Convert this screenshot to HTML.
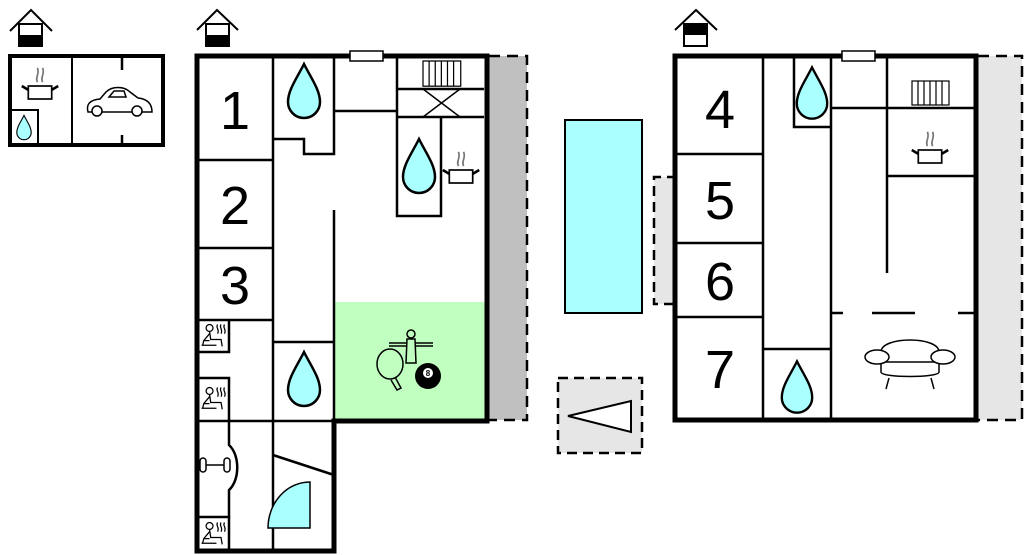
<!DOCTYPE html>
<html><head><meta charset="utf-8"><style>
html,body{margin:0;padding:0;background:#fff;width:1024px;height:555px;overflow:hidden}
svg{display:block}
text{font-family:"Liberation Sans",sans-serif}
</style></head><body>
<svg width="1024" height="555" viewBox="0 0 1024 555" xmlns="http://www.w3.org/2000/svg">
<defs>
<path id="drop" d="M0,-28 C7,-14 16,-2 16,10 A16,16 0 0 1 -16,10 C-16,-2 -7,-14 0,-28 Z" fill="#aaffff" stroke="#000" stroke-width="2.5"/>
<g id="pot" fill="none" stroke="#000" stroke-width="1.3">
<rect x="-9" y="0" width="18" height="10" fill="#fff"/>
<path d="M-9,3 L-14,0 M9,3 L14,0" stroke-width="2"/>
<path d="M-2,-3 C-4,-7 0,-9 -2,-14 M2,-3 C0,-7 4,-9 2,-14" stroke="#777"/>
</g>
<g id="rad" fill="#fff" stroke="#000" stroke-width="1.2">
<rect x="0" y="0" width="37" height="24"/>
<path d="M6,0V24M12,0V24M18,0V24M24,0V24M30,0V24"/>
</g>
<g id="sauna" fill="none" stroke="#000" stroke-width="1.1">
<circle cx="-3" cy="-7" r="3"/>
<path d="M-3,-4 L-2,3 L7,3 L8,9 M-3,-2 L-8,4 L-9,8 M-10,8 L3,8 M-8,4 L-3,4"/>
<path d="M4,-10 c-2,3 2,4 0,8 M7,-10 c-2,3 2,4 0,8 M10,-10 c-2,3 2,4 0,8"/>
</g>
</defs>

<g stroke="#000" fill="none" stroke-width="2">
<path d="M10,31 L31,10 L52,31"/><rect x="19" y="24" width="23" height="22" fill="#fff"/>
<path d="M197,30 L217,10 L238,30"/><rect x="206" y="24" width="23" height="22" fill="#fff"/>
<path d="M675,30 L696,10 L717,30"/><rect x="684" y="24" width="23" height="22" fill="#fff"/>
</g>
<rect x="19" y="35" width="23" height="11" fill="#000"/>
<rect x="206" y="35" width="23" height="11" fill="#000"/>
<rect x="684" y="24" width="23" height="11" fill="#000"/>

<g stroke="#000" fill="none">
<rect x="10" y="56" width="153" height="89" stroke-width="4"/>
<path d="M72,57V144 M12,110H38V144" stroke-width="2"/>
<path d="M122,57V70 M122,135V144" stroke-width="2.5"/>
</g>
<use href="#drop" transform="translate(24,128) scale(0.45)"/>
<use href="#pot" transform="translate(40,86) scale(1.3)"/>
<g fill="none" stroke="#000" stroke-width="1.5">
<path d="M88,112 C86,104 90,100 100,99 L106,92 C112,86 124,86 130,92 L138,98 C148,99 152,104 152,112 Z" fill="#fff"/>
<path d="M109,97 L114,91 L124,91 L126,97 Z"/>
<circle cx="97" cy="111" r="5" fill="#fff"/><circle cx="137" cy="111" r="5" fill="#fff"/>
</g>

<rect x="489" y="56" width="38" height="364" fill="#c0c0c0"/>
<path d="M489,56H527V420H489" fill="none" stroke="#000" stroke-width="2.5" stroke-dasharray="11,7"/>
<rect x="335" y="302" width="150" height="117" fill="#c0ffc0"/>

<g stroke="#000" fill="none" stroke-width="2.5">
<path d="M273,57V551 M197,160H273 M197,248H273 M197,320H273"/>
<path d="M273,139H304V154H334V57"/>
<path d="M334,111H397 M397,57V216H441V117 M397,89H484 M397,117H484"/>
<path d="M423,89L460,117 M460,89L423,117" stroke-width="1.5"/>
<path d="M334,210V421"/>
<path d="M273,342H334"/>
<path d="M197,421H334 M273,455L334,475"/>
<path d="M197,352H229V320 M197,378H229V421 M197,517H229V551"/>
<path d="M229,421V445 C240,455 240,480 229,490 V517"/>
</g>
<path d="M197,56H487V421H334V551H197Z" fill="none" stroke="#000" stroke-width="5"/>
<rect x="350" y="51" width="33" height="10" fill="#fff" stroke="#000" stroke-width="1.5"/>
<use href="#rad" transform="translate(423,61) scale(1.02,1.05)"/>
<use href="#drop" transform="translate(304,92)"/>
<use href="#drop" transform="translate(419,167)"/>
<use href="#drop" transform="translate(304,380)"/>
<use href="#pot" transform="translate(461,170) scale(1.3)"/>
<use href="#sauna" transform="translate(213,336) scale(1.15)"/>
<use href="#sauna" transform="translate(213,399) scale(1.15)"/>
<use href="#sauna" transform="translate(213,534) scale(1.15)"/>
<path d="M268,528 A42,46 0 0 1 310,482 V528 Z" fill="#aaffff" stroke="#000" stroke-width="1.5"/>
<g fill="none" stroke="#000" stroke-width="1.5">
<path d="M204,465H224"/><rect x="200" y="458" width="6" height="14" rx="3" fill="#fff"/><rect x="224" y="458" width="6" height="14" rx="3" fill="#fff"/>
</g>
<g fill="none" stroke="#000" stroke-width="1.5">
<path d="M389,343H433 M389,346H433"/>
<circle cx="411" cy="334" r="4" fill="#c0ffc0"/>
<path d="M407,339H415L416,363H406Z" fill="#c0ffc0"/>
<ellipse cx="390" cy="364" rx="13" ry="15" fill="#c0ffc0"/>
<path d="M395,377L401,388L397,390L391,380"/>
</g>
<circle cx="428" cy="376" r="13" fill="#000"/>
<circle cx="428" cy="373" r="5" fill="#fff"/>
<text x="428" y="376" font-size="8" text-anchor="middle" font-weight="bold">8</text>

<g font-size="54" text-anchor="middle">
<text x="235" y="129">1</text><text x="235" y="224">2</text><text x="235" y="304">3</text>
<text x="720" y="128">4</text><text x="720" y="219">5</text><text x="720" y="300">6</text><text x="720" y="388">7</text>
</g>

<rect x="565" y="120" width="77" height="193" fill="#aaffff" stroke="#000" stroke-width="2"/>
<rect x="654" y="177" width="23" height="127" fill="#e6e6e6"/>
<path d="M677,177H654V304H677" fill="none" stroke="#000" stroke-width="2.5" stroke-dasharray="10,6"/>
<rect x="558" y="378" width="84" height="75" fill="#e6e6e6" stroke="#000" stroke-width="2.5" stroke-dasharray="10,6"/>
<path d="M568,416L631,401V432Z" fill="#fff" stroke="#000" stroke-width="2"/>

<rect x="978" y="56" width="44" height="364" fill="#e6e6e6"/>
<path d="M978,56H1022V420H978" fill="none" stroke="#000" stroke-width="2.5" stroke-dasharray="11,7"/>
<g stroke="#000" fill="none" stroke-width="2.5">
<path d="M763,57V420 M831,57V420 M677,154H763 M677,243H763 M677,317H763"/>
<path d="M794,57V127H831 M763,349H831"/>
<path d="M887,57V273 M831,108H975 M887,176H975"/>
<path d="M831,313H843 M872,313H915 M958,313H975"/>
</g>
<rect x="675" y="56" width="301" height="364" fill="none" stroke="#000" stroke-width="5"/>
<rect x="842" y="51" width="33" height="10" fill="#fff" stroke="#000" stroke-width="1.5"/>
<use href="#rad" transform="translate(912,81)"/>
<use href="#pot" transform="translate(930,150) scale(1.3)"/>
<use href="#drop" transform="translate(812,94) scale(0.95)"/>
<use href="#drop" transform="translate(797,388) scale(0.95)"/>
<g fill="#fff" stroke="#000" stroke-width="1.5">
<path d="M881,352 C881,336 939,336 939,352 V372 C939,378 881,378 881,372 Z"/>
<path d="M881,362H939"/>
<path d="M889,378L886,389 M931,378L934,389"/>
<ellipse cx="877" cy="357" rx="12" ry="7"/>
<ellipse cx="943" cy="357" rx="12" ry="7"/>
</g>
</svg>
</body></html>
